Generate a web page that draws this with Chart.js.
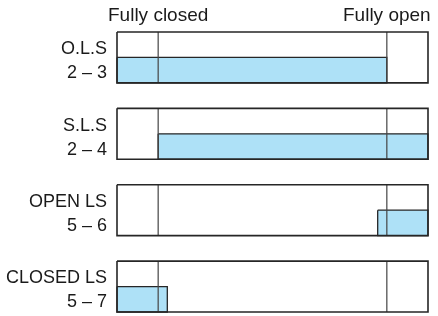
<!DOCTYPE html>
<html>
<head>
<meta charset="utf-8">
<script src="https://cdn.jsdelivr.net/npm/chart.js@4/dist/chart.umd.min.js"></script>
<style>
  html, body { margin: 0; padding: 0; background: #fff; }
  #wrap { width: 438px; height: 316px; }
</style>
</head>
<body>
<div id="wrap"><canvas id="chart"></canvas></div>
<script>
// Limit switch contact chart: valve travel vs. contact closed (blue)
const rowNames = ['O.L.S', 'S.L.S', 'OPEN LS', 'CLOSED LS'];
const rowTerminals = ['2 \u2013 3', '2 \u2013 4', '5 \u2013 6', '5 \u2013 7'];

// travel axis: fully closed = 0, fully open = 100, box covers overtravel
const travelMin = -18;
const travelMax = 118;
const positionTicks = [0, 100];
const positionLabels = ['Fully closed', 'Fully open'];

// contact made (shaded) between these travel positions, per row
const contactStart = [-18, 0, 96, -18];
const contactEnd = [100, 118, 118, 4];

const ROW_PITCH = 3;   // box = 2 units, gap = 1 unit
const INK = '#262626';
const FILL = '#aee1f7';

const datasets = [];

rowNames.forEach(function (name, i) {
  const top = i * ROW_PITCH;
  const mid = top + 1;
  const bot = top + 2;

  // shaded contact region (lower half of the box)
  datasets.push({
    data: [
      { x: contactStart[i], y: mid }, { x: contactEnd[i], y: mid },
      { x: contactEnd[i], y: bot }, { x: contactStart[i], y: bot },
      { x: contactStart[i], y: mid }
    ],
    showLine: true, fill: 'shape', backgroundColor: FILL,
    borderColor: INK, borderWidth: 1.3, pointRadius: 0, clip: false, order: 2
  });

  // outer box
  datasets.push({
    data: [
      { x: travelMin, y: top }, { x: travelMax, y: top },
      { x: travelMax, y: bot }, { x: travelMin, y: bot },
      { x: travelMin, y: top }
    ],
    showLine: true, fill: false, borderColor: INK, borderWidth: 1.6,
    pointRadius: 0, clip: false, order: 1
  });

  // fully closed / fully open marker lines
  positionTicks.forEach(function (p) {
    datasets.push({
      data: [{ x: p, y: top }, { x: p, y: bot }],
      showLine: true, fill: false, borderColor: '#444', borderWidth: 1.2,
      pointRadius: 0, clip: false, order: 1
    });
  });
});

const rowTickValues = [];
const rowTickLabels = [];
rowNames.forEach(function (name, i) {
  rowTickValues.push(i * ROW_PITCH + 0.68, i * ROW_PITCH + 1.62);
  rowTickLabels.push(name, rowTerminals[i]);
});

new Chart(document.getElementById('chart'), {
  type: 'scatter',
  data: { datasets: datasets },
  options: {
    animation: false,
    responsive: true,
    maintainAspectRatio: false,
    layout: { padding: { left: 0, top: 0, right: 10, bottom: 4 } },
    plugins: { legend: { display: false }, tooltip: { enabled: false } },
    scales: {
      x: {
        type: 'linear', position: 'top', min: travelMin, max: travelMax,
        grid: { display: false, drawTicks: false }, border: { display: false },
        afterBuildTicks: function (scale) {
          scale.ticks = positionTicks.map(function (v) { return { value: v }; });
        },
        afterFit: function (scale) {
          scale.height = 32;
          scale.paddingLeft = 0;
          scale.paddingRight = 0;
        },
        ticks: {
          autoSkip: false, maxRotation: 0, padding: 5, color: '#1a1a1a',
          font: { family: 'Liberation Sans, Arial, sans-serif', size: 19 },
          callback: function (v, idx) { return positionLabels[idx]; }
        }
      },
      y: {
        type: 'linear', reverse: true, min: 0, max: rowNames.length * ROW_PITCH - 1,
        grid: { display: false, drawTicks: false }, border: { display: false },
        afterBuildTicks: function (scale) {
          scale.ticks = rowTickValues.map(function (v) { return { value: v }; });
        },
        afterFit: function (scale) {
          scale.width = 117;
          scale.paddingTop = 0;
          scale.paddingBottom = 0;
        },
        ticks: {
          autoSkip: false, padding: 10, color: '#1a1a1a',
          font: { family: 'Liberation Sans, Arial, sans-serif', size: 18 },
          callback: function (v, idx) { return rowTickLabels[idx]; }
        }
      }
    }
  }
});
</script>
</body>
</html>
